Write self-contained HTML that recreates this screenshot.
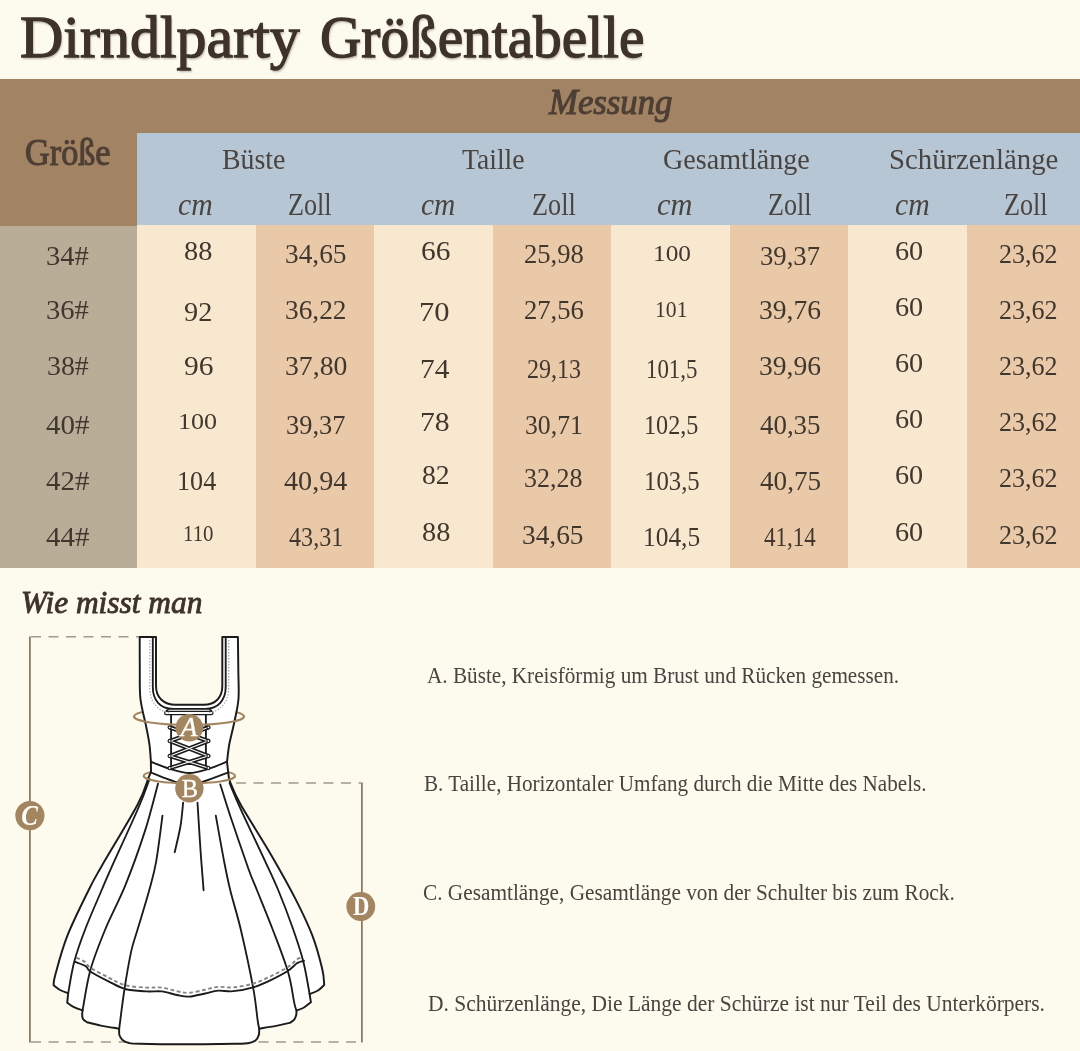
<!DOCTYPE html>
<html lang="de">
<head>
<meta charset="utf-8">
<title>Dirndlparty Größentabelle</title>
<style>
html,body{margin:0;padding:0}
body{width:1080px;height:1051px;position:relative;overflow:hidden;background:#fdfaee;font-family:"Liberation Serif", serif}
.bk{position:absolute}
.t{position:absolute;white-space:nowrap;line-height:1;transform-origin:0 0;margin:0;padding:0}
.title{text-shadow:1px 2px 2px rgba(110,95,75,.45)}
h1{margin:0;font-size:inherit;font-weight:normal}
svg{position:absolute;left:0;top:0}
</style>
</head>
<body>
<div class="bk" style="left:137px;top:220px;width:943.0px;height:347.6px;background:#f8e8cf"></div>
<div class="bk" style="left:256px;top:220px;width:118.0px;height:347.6px;background:#e9c9a7"></div>
<div class="bk" style="left:492.5px;top:220px;width:118.5px;height:347.6px;background:#e9c9a7"></div>
<div class="bk" style="left:730px;top:220px;width:118.0px;height:347.6px;background:#e9c9a7"></div>
<div class="bk" style="left:967px;top:220px;width:113.0px;height:347.6px;background:#e9c9a7"></div>
<div class="bk" style="left:0px;top:220px;width:137.0px;height:347.6px;background:#b9ad97"></div>
<div class="bk" style="left:0px;top:78.7px;width:1080.0px;height:61.3px;background:#a28363"></div>
<div class="bk" style="left:0px;top:135px;width:137.0px;height:90.5px;background:#a28363"></div>
<div class="bk" style="left:137px;top:132.6px;width:943.0px;height:92.9px;background:#b6c6d5"></div>
<svg width="1080" height="1051" viewBox="0 0 1080 1051">
<g fill="none" stroke="#8c7354" stroke-width="1.7"><path d="M29.9,636.5V1042.5"/><path d="M361.9,782.5V1042.5"/></g>
<g fill="none" stroke="#a39a86" stroke-width="1.4" stroke-dasharray="10 7.5"><path d="M31,636.8H140"/><path d="M31,1042H362"/><path d="M236,783H361"/></g>
<g fill="none" stroke="#a38660" stroke-width="2.1"><ellipse cx="189" cy="716.5" rx="55" ry="8.5"/><ellipse cx="189.4" cy="776" rx="45.7" ry="7.3"/></g>
<path d="M139.7,637H156V686C156,697 163,704.8 176,704.8H203.5C216,704.8 222.3,697 222.3,686V637H237.9L237.9,637.0C238.0,642.5 238.2,659.8 238.3,670.0C238.4,680.2 239.1,690.0 238.5,698.5C237.9,707.0 236.0,713.7 234.5,721.3C233.0,728.9 230.6,737.5 229.3,744.2C228.1,750.9 227.4,758.8 227.0,761.7L228.2,772.5L228.2,772.5C228.5,774.1 228.1,776.8 230.2,782.2C232.3,787.6 234.1,792.8 240.9,805.0C247.8,817.2 262.2,839.5 271.3,855.2C280.4,870.9 288.9,886.0 295.7,899.4C302.5,912.8 308.0,924.1 312.4,935.7C316.8,947.3 320.3,961.0 322.3,969.2C324.3,977.4 323.9,982.4 324.2,985.0L324.2,985.0C323.2,985.9 320.4,989.0 318.0,990.5C315.6,992.0 311.0,993.4 309.6,994.0L309.6,994.0C309.8,995.4 310.7,1000.8 310.9,1002.2L310.9,1002.2C309.8,1003.1 306.4,1006.1 304.0,1007.5C301.6,1008.9 297.8,1010.1 296.5,1010.6L296.5,1010.6C296.4,1011.3 296.6,1013.5 296.2,1015.0C295.8,1016.5 295.2,1018.3 294.2,1019.6C293.2,1020.9 290.7,1022.3 290.0,1022.8L290.0,1022.8C287.9,1023.3 282.5,1024.6 277.4,1025.6C272.3,1026.6 262.2,1028.1 259.2,1028.6L259.2,1028.6C259.1,1029.7 259.4,1033.0 258.8,1035.0C258.2,1037.0 257.3,1039.1 255.5,1040.5C253.7,1041.9 251.4,1042.7 248.0,1043.2C244.6,1043.8 246.3,1043.6 235.0,1043.8C223.7,1044.0 195.8,1044.3 180.0,1044.3C164.2,1044.3 148.5,1044.0 140.0,1043.8C131.5,1043.6 131.9,1043.6 129.0,1043.0C126.1,1042.4 124.1,1041.3 122.5,1040.0C120.9,1038.7 120.0,1036.9 119.4,1035.0C118.9,1033.1 119.2,1029.7 119.2,1028.6L119.2,1028.6C116.2,1028.1 106.3,1026.7 100.9,1025.6C95.5,1024.5 89.3,1022.8 87.0,1022.2L87.0,1022.2C86.3,1021.7 83.8,1020.3 83.0,1019.0C82.2,1017.7 82.3,1015.9 82.2,1014.5C82.1,1013.1 82.5,1011.1 82.6,1010.4L82.6,1010.4C81.2,1009.9 76.6,1008.5 74.0,1007.2C71.4,1005.9 68.3,1003.4 67.2,1002.6L67.2,1002.6C67.4,1001.0 68.0,994.8 68.2,993.2L68.2,993.2C66.8,992.7 62.4,991.3 60.0,990.0C57.6,988.7 54.7,986.1 53.6,985.3L53.6,985.3C53.9,983.6 52.9,983.5 55.2,975.2C57.5,966.9 61.8,949.9 67.4,935.7C73.0,921.5 83.1,901.4 88.7,890.0C94.3,878.6 92.8,881.6 100.9,867.4C109.0,853.2 129.4,820.1 137.4,805.0C145.4,789.9 146.5,782.3 148.8,776.9C151.1,771.5 150.6,773.2 151.0,772.5L150.9,761.7L150.9,761.7C150.7,758.8 150.2,750.2 149.4,744.2C148.6,738.2 147.5,733.3 146.0,725.7C144.5,718.1 141.4,707.8 140.4,698.5C139.4,689.2 139.9,680.2 139.8,670.0C139.7,659.8 139.7,642.5 139.7,637.0Z" fill="#ffffff" stroke="#1b1b1b" stroke-width="1.95" stroke-linejoin="round"/>
<path d="M149.6,779.0C147.8,783.6 145.3,791.8 139.0,806.5C132.7,821.2 117.7,853.5 111.5,867.4C105.3,881.3 106.0,879.9 101.7,890.0C97.4,900.1 90.3,916.1 85.7,928.0C81.1,939.9 77.2,950.6 74.3,961.5C71.4,972.4 69.2,987.9 68.2,993.2M158.0,783.7C155.8,791.6 150.5,813.9 145.0,830.9C139.5,847.9 131.9,869.2 125.2,885.7C118.5,902.2 110.8,915.8 105.0,930.0C99.2,944.2 93.9,957.3 90.2,970.7C86.5,984.1 83.9,1003.8 82.6,1010.4M162.5,815.7C161.4,823.3 158.4,848.9 156.2,861.3C154.0,873.7 152.4,878.5 149.3,890.0C146.2,901.5 140.4,919.9 137.4,930.0C134.4,940.1 133.5,941.1 131.3,950.9C129.2,960.7 126.5,976.0 124.5,989.0C122.5,1002.0 120.1,1022.0 119.2,1028.6M183.1,802.7C182.7,806.6 181.9,817.8 180.5,826.0C179.1,834.2 175.7,847.8 174.7,852.2M229.5,783.0C231.4,787.4 235.0,796.6 240.9,809.6C246.8,822.6 259.0,847.9 265.2,861.3C271.4,874.7 273.6,878.9 278.2,890.0C282.8,901.1 288.5,916.1 292.7,928.0C296.9,939.9 300.5,950.5 303.3,961.5C306.1,972.5 308.6,988.6 309.6,994.0M220.3,784.5C222.0,789.7 225.5,801.6 230.2,815.7C234.9,829.8 244.1,856.6 248.5,869.0C252.9,881.4 252.8,879.8 256.9,890.0C261.0,900.2 267.7,916.3 272.9,930.0C278.1,943.7 284.6,960.1 288.1,972.2C291.7,984.3 292.8,996.2 294.2,1002.6C295.6,1009.0 296.1,1009.3 296.5,1010.6M215.8,815.7C217.2,823.3 221.7,848.9 224.1,861.3C226.5,873.7 227.4,878.5 230.2,890.0C233.0,901.5 237.1,913.8 240.9,930.0C244.7,946.2 250.3,972.4 253.1,987.4C255.9,1002.4 256.6,1013.1 257.6,1020.0C258.6,1026.9 258.9,1027.2 259.2,1028.6M197.5,802.7C198.0,810.6 199.5,835.4 200.5,850.0C201.5,864.6 203.1,883.6 203.6,890.3M74.3,961.5C76.2,962.3 83.0,964.5 85.7,966.1C88.4,967.8 86.4,968.9 90.2,971.4C94.0,973.9 102.7,978.4 108.5,981.3C114.3,984.2 118.9,987.3 125.2,989.0C131.6,990.7 140.5,991.0 146.6,991.4C152.7,991.8 156.7,990.8 161.8,991.4C166.9,992.0 172.4,994.1 177.0,995.0C181.6,995.9 184.4,996.9 189.1,996.6C193.8,996.4 200.2,994.5 205.0,993.5C209.8,992.5 213.4,991.1 218.1,990.7C222.8,990.3 227.5,991.8 233.3,991.2C239.1,990.7 246.8,989.3 253.1,987.4C259.4,985.5 265.5,982.6 271.3,979.8C277.1,977.0 283.8,973.5 288.1,970.7C292.4,967.9 294.6,964.8 297.2,963.1C299.8,961.5 302.9,961.2 304.0,960.8M150.9,761.7C154.2,763.0 164.6,767.3 171.0,769.2C177.4,771.1 183.3,773.0 189.4,773.0C195.5,773.0 201.3,771.1 207.6,769.2C213.9,767.3 223.8,763.0 227.0,761.7M151.0,772.5C154.2,773.8 163.6,777.9 170.0,780.0C176.4,782.1 183.1,785.0 189.4,785.0C195.7,785.0 201.5,782.1 208.0,780.0C214.5,777.9 224.8,773.8 228.2,772.5M171.1,714.5V769.2M205.9,714.5V769.2M152.8,637V687C152.8,700 160,708.8 173,708.8H205.5C218,708.8 225.7,700 225.7,687V637M168.5,708.8L166.2,711.4M209.5,708.8L211.6,711.4" fill="none" stroke="#1b1b1b" stroke-width="1.85" stroke-linecap="round" stroke-linejoin="round"/>
<rect x="164.6" y="711.3" width="48.4" height="3.4" rx="1.7" fill="#fff" stroke="#1b1b1b" stroke-width="1.2"/>
<path d="M76.3,957.7C77.9,958.5 83.4,960.7 85.7,962.3C88.0,964.0 86.4,965.1 90.2,967.6C94.0,970.1 102.7,974.6 108.5,977.5C114.3,980.4 118.9,983.5 125.2,985.2C131.6,986.9 140.5,987.2 146.6,987.6C152.7,988.0 156.7,987.0 161.8,987.6C166.9,988.2 172.4,990.3 177.0,991.2C181.6,992.1 184.4,993.1 189.1,992.8C193.8,992.6 200.2,990.7 205.0,989.7C209.8,988.7 213.4,987.3 218.1,986.9C222.8,986.5 227.5,988.0 233.3,987.4C239.1,986.9 246.8,985.5 253.1,983.6C259.4,981.7 265.5,978.8 271.3,976.0C277.1,973.2 283.8,969.7 288.1,966.9C292.4,964.1 294.9,961.0 297.2,959.3C299.5,957.7 301.2,957.4 302.0,957.0" fill="none" stroke="#858585" stroke-width="1.9" stroke-dasharray="3.8 2.6"/>
<path d="M149.8,640V688C149.8,702 158,711.5 169,712.5M228.7,640V688C228.7,702 220.5,711.5 209,712.5" fill="none" stroke="#a8a8a8" stroke-width="1.3" stroke-dasharray="1.4 1.6"/>
<path d="M170,727.4L208.2,741M208.2,727.4L170,741M170,741L208.2,756M208.2,741L170,756M170,756L208.2,768M208.2,756L170,768" fill="none" stroke="#1b1b1b" stroke-width="4.3" stroke-linecap="round"/>
<path d="M170,727.4L208.2,741M208.2,727.4L170,741M170,741L208.2,756M208.2,741L170,756M170,756L208.2,768M208.2,756L170,768" fill="none" stroke="#fff" stroke-width="1.1" stroke-linecap="round"/>
<g fill="#fff" stroke="#1b1b1b" stroke-width="1.1"><circle cx="169.6" cy="727.4" r="1.5"/><circle cx="208.4" cy="727.4" r="1.5"/><circle cx="169.6" cy="741" r="1.5"/><circle cx="208.4" cy="741" r="1.5"/><circle cx="169.6" cy="756" r="1.5"/><circle cx="208.4" cy="756" r="1.5"/><circle cx="169.6" cy="768" r="1.5"/><circle cx="208.4" cy="768" r="1.5"/></g>
<g fill="none" stroke="#a38660" stroke-width="2.1"><path d="M134,716.5A55,8.5 0 0 0 244,716.5"/><path d="M143.7,776A45.7,7.3 0 0 0 235.1,776"/></g>
<g fill="#a38660"><circle cx="189.3" cy="727.7" r="13.8"/><circle cx="189.4" cy="788.3" r="14.2"/><circle cx="29.9" cy="815.6" r="14.6"/><circle cx="360.8" cy="906.5" r="14.4"/></g>
<g fill="#ffffff" stroke="#ffffff" stroke-width="0.35" font-family="'Liberation Serif', serif" font-weight="400" font-size="25" text-anchor="middle"><text x="188.9" y="736.2" font-style="italic" font-size="27">A</text><text x="189.9" y="796.8" font-size="24.5">B</text><text transform="translate(29.6,825.2) scale(0.86,1)" font-style="italic" font-weight="700" font-size="29" stroke-width="0">C</text><text transform="translate(361.2,915.4) scale(0.84,1)" font-weight="700" font-size="27" stroke-width="0">D</text></g>
</svg>
<h1><span class="t title" style="left:20.38px;top:7.60px;font-size:59px;font-weight:400;color:#3e332b;transform:scaleX(1.0167);-webkit-text-stroke:1.3px #3e332b">Dirndlparty</span> <span class="t title" style="left:319.76px;top:7.60px;font-size:59px;font-weight:400;color:#3e332b;transform:scaleX(0.9707);-webkit-text-stroke:1.3px #3e332b">Größentabelle</span></h1>
<div class="t" style="left:549.26px;top:84.20px;font-size:36px;font-weight:400;color:#4e3f35;transform:scaleX(0.9641);font-style:italic;-webkit-text-stroke:1.1px #4e3f35">Messung</div>
<div class="t" style="left:24.87px;top:134.30px;font-size:37px;font-weight:400;color:#4e3f35;transform:scaleX(0.9253);-webkit-text-stroke:1.1px #4e3f35">Größe</div>
<div class="t" style="left:221.77px;top:144.00px;font-size:30px;font-weight:400;color:#4a4440;transform:scaleX(0.9288)">Büste</div>
<div class="t" style="left:461.78px;top:144.00px;font-size:30px;font-weight:400;color:#4a4440;transform:scaleX(0.9212)">Taille</div>
<div class="t" style="left:662.66px;top:144.00px;font-size:30px;font-weight:400;color:#4a4440;transform:scaleX(0.9374)">Gesamtlänge</div>
<div class="t" style="left:889.08px;top:144.00px;font-size:30px;font-weight:400;color:#4a4440;transform:scaleX(0.9586)">Schürzenlänge</div>
<div class="t" style="left:178.07px;top:188.30px;font-size:32px;font-weight:400;color:#4a4440;transform:scaleX(0.9286);font-style:italic">cm</div>
<div class="t" style="left:420.88px;top:188.30px;font-size:32px;font-weight:400;color:#4a4440;transform:scaleX(0.9200);font-style:italic">cm</div>
<div class="t" style="left:656.85px;top:188.30px;font-size:32px;font-weight:400;color:#4a4440;transform:scaleX(0.9486);font-style:italic">cm</div>
<div class="t" style="left:894.57px;top:188.30px;font-size:32px;font-weight:400;color:#4a4440;transform:scaleX(0.9286);font-style:italic">cm</div>
<div class="t" style="left:288.46px;top:189.30px;font-size:31px;font-weight:400;color:#4a4440;transform:scaleX(0.8440)">Zoll</div>
<div class="t" style="left:531.55px;top:189.30px;font-size:31px;font-weight:400;color:#4a4440;transform:scaleX(0.8460)">Zoll</div>
<div class="t" style="left:768.06px;top:189.30px;font-size:31px;font-weight:400;color:#4a4440;transform:scaleX(0.8420)">Zoll</div>
<div class="t" style="left:1004.46px;top:189.30px;font-size:31px;font-weight:400;color:#4a4440;transform:scaleX(0.8440)">Zoll</div>
<div class="t" style="left:46.48px;top:242.26px;font-size:28px;font-weight:400;color:#40372f;transform:scaleX(1.0195)">34#</div>
<div class="t" style="left:184.19px;top:236.76px;font-size:28px;font-weight:400;color:#40372f;transform:scaleX(1.0115)">88</div>
<div class="t" style="left:285.42px;top:239.76px;font-size:28px;font-weight:400;color:#40372f;transform:scaleX(0.9770)">34,65</div>
<div class="t" style="left:420.55px;top:236.76px;font-size:28px;font-weight:400;color:#40372f;transform:scaleX(1.0500)">66</div>
<div class="t" style="left:524.05px;top:239.76px;font-size:28px;font-weight:400;color:#40372f;transform:scaleX(0.9508)">25,98</div>
<div class="t" style="left:653.14px;top:241.74px;font-size:23.5px;font-weight:400;color:#40372f;transform:scaleX(1.0781)">100</div>
<div class="t" style="left:760.45px;top:242.26px;font-size:28px;font-weight:400;color:#40372f;transform:scaleX(0.9525)">39,37</div>
<div class="t" style="left:894.79px;top:236.76px;font-size:28px;font-weight:400;color:#40372f;transform:scaleX(1.0077)">60</div>
<div class="t" style="left:999.27px;top:239.76px;font-size:28px;font-weight:400;color:#40372f;transform:scaleX(0.9300)">23,62</div>
<div class="t" style="left:46.48px;top:295.91px;font-size:28px;font-weight:400;color:#40372f;transform:scaleX(1.0195)">36#</div>
<div class="t" style="left:184.19px;top:298.41px;font-size:28px;font-weight:400;color:#40372f;transform:scaleX(1.0120)">92</div>
<div class="t" style="left:285.42px;top:295.91px;font-size:28px;font-weight:400;color:#40372f;transform:scaleX(0.9767)">36,22</div>
<div class="t" style="left:419.42px;top:298.41px;font-size:28px;font-weight:400;color:#40372f;transform:scaleX(1.0920)">70</div>
<div class="t" style="left:524.05px;top:295.91px;font-size:28px;font-weight:400;color:#40372f;transform:scaleX(0.9508)">27,56</div>
<div class="t" style="left:655.16px;top:297.89px;font-size:23.5px;font-weight:400;color:#40372f;transform:scaleX(0.9219)">101</div>
<div class="t" style="left:759.41px;top:295.91px;font-size:28px;font-weight:400;color:#40372f;transform:scaleX(0.9852)">39,76</div>
<div class="t" style="left:894.79px;top:292.91px;font-size:28px;font-weight:400;color:#40372f;transform:scaleX(1.0077)">60</div>
<div class="t" style="left:999.27px;top:295.91px;font-size:28px;font-weight:400;color:#40372f;transform:scaleX(0.9300)">23,62</div>
<div class="t" style="left:47.00px;top:352.06px;font-size:28px;font-weight:400;color:#40372f;transform:scaleX(0.9951)">38#</div>
<div class="t" style="left:183.55px;top:352.06px;font-size:28px;font-weight:400;color:#40372f;transform:scaleX(1.0538)">96</div>
<div class="t" style="left:285.41px;top:352.06px;font-size:28px;font-weight:400;color:#40372f;transform:scaleX(0.9902)">37,80</div>
<div class="t" style="left:419.50px;top:354.56px;font-size:28px;font-weight:400;color:#40372f;transform:scaleX(1.0500)">74</div>
<div class="t" style="left:526.74px;top:354.56px;font-size:28px;font-weight:400;color:#40372f;transform:scaleX(0.8590)">29,13</div>
<div class="t" style="left:646.35px;top:354.56px;font-size:28px;font-weight:400;color:#40372f;transform:scaleX(0.8169)">101,5</div>
<div class="t" style="left:759.41px;top:352.06px;font-size:28px;font-weight:400;color:#40372f;transform:scaleX(0.9852)">39,96</div>
<div class="t" style="left:894.79px;top:349.06px;font-size:28px;font-weight:400;color:#40372f;transform:scaleX(1.0077)">60</div>
<div class="t" style="left:999.27px;top:352.06px;font-size:28px;font-weight:400;color:#40372f;transform:scaleX(0.9300)">23,62</div>
<div class="t" style="left:46.46px;top:410.71px;font-size:28px;font-weight:400;color:#40372f;transform:scaleX(1.0366)">40#</div>
<div class="t" style="left:178.08px;top:410.19px;font-size:23.5px;font-weight:400;color:#40372f;transform:scaleX(1.1094)">100</div>
<div class="t" style="left:286.06px;top:410.71px;font-size:28px;font-weight:400;color:#40372f;transform:scaleX(0.9426)">39,37</div>
<div class="t" style="left:419.88px;top:408.21px;font-size:28px;font-weight:400;color:#40372f;transform:scaleX(1.0600)">78</div>
<div class="t" style="left:524.78px;top:410.71px;font-size:28px;font-weight:400;color:#40372f;transform:scaleX(0.9183)">30,71</div>
<div class="t" style="left:644.41px;top:410.71px;font-size:28px;font-weight:400;color:#40372f;transform:scaleX(0.8644)">102,5</div>
<div class="t" style="left:760.44px;top:410.71px;font-size:28px;font-weight:400;color:#40372f;transform:scaleX(0.9607)">40,35</div>
<div class="t" style="left:894.79px;top:405.21px;font-size:28px;font-weight:400;color:#40372f;transform:scaleX(1.0077)">60</div>
<div class="t" style="left:999.27px;top:408.21px;font-size:28px;font-weight:400;color:#40372f;transform:scaleX(0.9300)">23,62</div>
<div class="t" style="left:46.46px;top:466.86px;font-size:28px;font-weight:400;color:#40372f;transform:scaleX(1.0366)">42#</div>
<div class="t" style="left:177.20px;top:466.86px;font-size:28px;font-weight:400;color:#40372f;transform:scaleX(0.9333)">104</div>
<div class="t" style="left:284.40px;top:466.86px;font-size:28px;font-weight:400;color:#40372f;transform:scaleX(1.0048)">40,94</div>
<div class="t" style="left:422.21px;top:461.36px;font-size:28px;font-weight:400;color:#40372f;transform:scaleX(0.9880)">82</div>
<div class="t" style="left:524.07px;top:464.36px;font-size:28px;font-weight:400;color:#40372f;transform:scaleX(0.9262)">32,28</div>
<div class="t" style="left:643.85px;top:466.86px;font-size:28px;font-weight:400;color:#40372f;transform:scaleX(0.8847)">103,5</div>
<div class="t" style="left:760.43px;top:466.86px;font-size:28px;font-weight:400;color:#40372f;transform:scaleX(0.9689)">40,75</div>
<div class="t" style="left:894.79px;top:461.36px;font-size:28px;font-weight:400;color:#40372f;transform:scaleX(1.0077)">60</div>
<div class="t" style="left:999.27px;top:464.36px;font-size:28px;font-weight:400;color:#40372f;transform:scaleX(0.9300)">23,62</div>
<div class="t" style="left:46.46px;top:523.01px;font-size:28px;font-weight:400;color:#40372f;transform:scaleX(1.0366)">44#</div>
<div class="t" style="left:182.82px;top:522.49px;font-size:23.5px;font-weight:400;color:#40372f;transform:scaleX(0.8875)">110</div>
<div class="t" style="left:289.44px;top:523.01px;font-size:28px;font-weight:400;color:#40372f;transform:scaleX(0.8617)">43,31</div>
<div class="t" style="left:421.59px;top:517.51px;font-size:28px;font-weight:400;color:#40372f;transform:scaleX(1.0115)">88</div>
<div class="t" style="left:522.42px;top:520.51px;font-size:28px;font-weight:400;color:#40372f;transform:scaleX(0.9770)">34,65</div>
<div class="t" style="left:642.78px;top:523.01px;font-size:28px;font-weight:400;color:#40372f;transform:scaleX(0.9068)">104,5</div>
<div class="t" style="left:764.48px;top:523.01px;font-size:28px;font-weight:400;color:#40372f;transform:scaleX(0.8210)">41,14</div>
<div class="t" style="left:894.79px;top:517.51px;font-size:28px;font-weight:400;color:#40372f;transform:scaleX(1.0077)">60</div>
<div class="t" style="left:999.27px;top:520.51px;font-size:28px;font-weight:400;color:#40372f;transform:scaleX(0.9300)">23,62</div>
<div class="t" style="left:20.54px;top:585.50px;font-size:32px;font-weight:400;color:#3e332b;transform:scaleX(0.9808);font-style:italic;-webkit-text-stroke:0.9px #3e332b">Wie misst man</div>
<div class="t" style="left:426.56px;top:664.50px;font-size:22.5px;font-weight:400;color:#4a4440;transform:scaleX(0.9419)">A. Büste, Kreisförmig um Brust und Rücken gemessen.</div>
<div class="t" style="left:424.06px;top:773.30px;font-size:22.5px;font-weight:400;color:#4a4440;transform:scaleX(0.9398)">B. Taille, Horizontaler Umfang durch die Mitte des Nabels.</div>
<div class="t" style="left:422.65px;top:882.30px;font-size:22.5px;font-weight:400;color:#4a4440;transform:scaleX(0.9467)">C. Gesamtlänge, Gesamtlänge von der Schulter bis zum Rock.</div>
<div class="t" style="left:427.64px;top:992.70px;font-size:22.5px;font-weight:400;color:#4a4440;transform:scaleX(0.9552)">D. Schürzenlänge, Die Länge der Schürze ist nur Teil des Unterkörpers.</div>
</body>
</html>
